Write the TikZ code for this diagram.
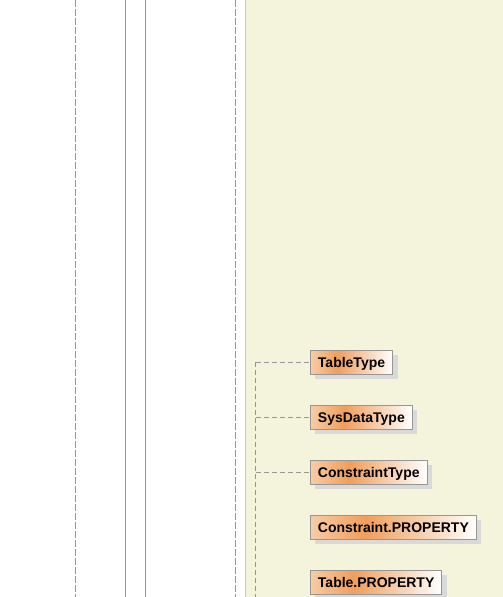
\documentclass[tikz,border=0pt]{standalone}
\usepackage{fontspec}
\setmainfont{Liberation Sans}
\usetikzlibrary{shadows}
\definecolor{clsLeft}{RGB}{248,204,164}
\definecolor{clsPeak}{RGB}{240,158,92}
\definecolor{pkgBack}{RGB}{244,244,220}
\definecolor{lineGray}{RGB}{150,150,150}
\pgfdeclarehorizontalshading{clsshade}{100bp}{%
	color(0bp)=(clsLeft); color(25bp)=(clsLeft); color(41.5bp)=(clsPeak);%
	color(75bp)=(white); color(100bp)=(white)}
\tikzset{/SQ/cls/.style={
	draw=lineGray, line width=0.9pt, shading=clsshade,
	anchor=west, minimum height=24pt, inner xsep=7.5pt, inner ysep=0pt,
	text height=10pt, text depth=0pt,
	font=\fontsize{14}{16}\selectfont\bfseries,
	drop shadow={shadow xshift=5pt, shadow yshift=-5pt, fill=black!15, opacity=1}
}}
\tikzset{/SQ/life/.style={lineGray, line width=0.9pt}}
\tikzset{/SQ/tree/.style={lineGray, line width=0.8pt, dash pattern=on 5pt off 3pt}}

\begin{document}
\begin{tikzpicture}[x=1pt, y=-1pt]
			\useasboundingbox (0,0) rectangle (503,597);
			\fill[pkgBack] (246,0) rectangle (503,597);
			\draw[black!22, line width=0.9pt] (245.5,0) -- (245.5,597);
			% lifelines
			\draw[/SQ/life, dash pattern=on 7pt off 2pt] (75.5,0) -- (75.5,597);
			\draw[/SQ/life] (125.5,0) -- (125.5,597);
			\draw[/SQ/life] (145.5,0) -- (145.5,597);
			\draw[/SQ/life, dash pattern=on 7pt off 2pt] (235.5,0) -- (235.5,597);
			% classes
			\path (310,362) node[/SQ/cls] (tableType) {TableType};
			\path (310,417) node[/SQ/cls] (sysDataType) {SysDataType};
			\path (310,472) node[/SQ/cls] (constraintType) {ConstraintType};
			\path (310,527) node[/SQ/cls] (constraintProp) {Constraint.PROPERTY};
			\path (310,582) node[/SQ/cls] (tableProp) {Table.PROPERTY};
			% tree
			\coordinate (treeTop) at (255.5,362);
			\coordinate (treeEnd) at (255.5,597);
			\draw[/SQ/tree] (treeTop) -- (treeEnd);
			\draw[/SQ/tree] (treeTop) -- (tableType.west);
			\draw[/SQ/tree] (treeTop |- sysDataType.west) -- (sysDataType.west);
			\draw[/SQ/tree] (treeTop |- constraintType.west) -- (constraintType.west);
		\end{tikzpicture}
\end{document}
